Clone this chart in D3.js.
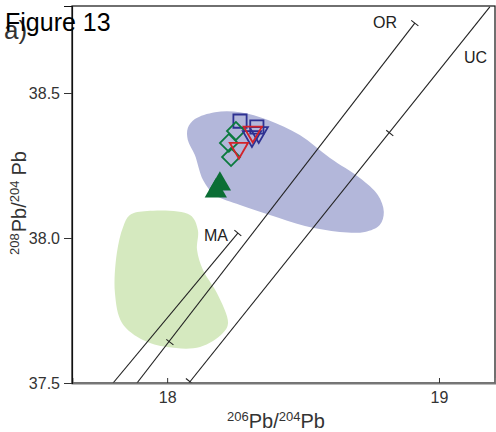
<!DOCTYPE html>
<html>
<head>
<meta charset="utf-8">
<script src="https://cdn.jsdelivr.net/npm/d3@7"></script>
<style>
  body { margin: 0; background: #fff; }
  svg { display: block; font-family: "Liberation Sans", Arial, sans-serif; }
</style>
</head>
<body>
<div id="chart"></div>
<script>
// Axis ticks
const xTicks = [18, 19];
const yTicks = [37.5, 38.0, 38.5];

// Field outlines (206Pb/204Pb, 208Pb/204Pb)
const blueField = [
  [18.076, 38.379], [18.102, 38.410], [18.176, 38.434], [18.268, 38.434],
  [18.371, 38.407], [18.488, 38.355], [18.599, 38.276], [18.709, 38.207],
  [18.775, 38.148], [18.797, 38.090], [18.782, 38.045], [18.727, 38.021],
  [18.635, 38.021], [18.507, 38.041], [18.378, 38.079], [18.268, 38.114],
  [18.176, 38.148], [18.132, 38.200], [18.102, 38.286], [18.076, 38.338]
];
const greenField = [
  [17.863, 38.079], [17.926, 38.093], [18.084, 38.079], [18.113, 38.028],
  [18.110, 37.959], [18.132, 37.890], [18.183, 37.810], [18.224, 37.707],
  [18.205, 37.672], [18.121, 37.624], [17.999, 37.624], [17.911, 37.648],
  [17.834, 37.707], [17.808, 37.810], [17.815, 37.948], [17.838, 38.038]
];

// Growth curves: start, end, tick marks
const curveNames = ["OR", "UC", "MA"];
const curveStart = [[17.889, 37.5], [18.080, 37.5], [17.801, 37.5]];
const curveEnd = [[18.911, 38.741], [19.187, 38.797], [18.260, 38.017]];
const curveTicks = [[[18.010, 37.641]], [[18.082, 37.506], [18.819, 38.362]], []];
const curveEndCap = [true, false, true];

// Samples
const blueSquares = [[18.268, 38.403], [18.330, 38.383]];
const greenDiamonds = [[18.253, 38.369], [18.227, 38.328], [18.235, 38.279]];
const redTriangles = [[18.315, 38.366], [18.264, 38.310]];
const blueTriangles = [[18.312, 38.350], [18.337, 38.364]];
const greenFilled = [[18.194, 38.186], [18.179, 38.162]];

const W = 496, H = 432;
const x = d3.scaleLinear().domain([17.65, 19.206]).range([72, 495]);
const y = d3.scaleLinear().domain([37.5, 38.8]).range([383, 6]);

const svg = d3.select("#chart").append("svg")
  .attr("width", W).attr("height", H);

svg.append("clipPath").attr("id", "clip")
  .append("rect")
  .attr("x", 72).attr("y", 6).attr("width", 423).attr("height", 377);

const plot = svg.append("g").attr("clip-path", "url(#clip)");

const area = d3.line().x(d => x(d[0])).y(d => y(d[1])).curve(d3.curveCatmullRomClosed.alpha(0.5));

plot.append("path").datum(blueField).attr("d", area).attr("fill", "#b3b7da");
plot.append("path").datum(greenField).attr("d", area).attr("fill", "#d5e9bf");

// growth curves
curveNames.forEach((name, i) => {
  const p0 = [x(curveStart[i][0]), y(curveStart[i][1])];
  const p1 = [x(curveEnd[i][0]), y(curveEnd[i][1])];
  const dx = p1[0] - p0[0], dy = p1[1] - p0[1];
  const len = Math.hypot(dx, dy);
  const nx = -dy / len * 4.5, ny = dx / len * 4.5;
  plot.append("line")
    .attr("x1", p0[0]).attr("y1", p0[1]).attr("x2", p1[0]).attr("y2", p1[1])
    .attr("stroke", "#222").attr("stroke-width", 1.1);
  const marks = curveTicks[i].map(t => [x(t[0]), y(t[1])]);
  if (curveEndCap[i]) marks.push(p1);
  marks.forEach(m => {
    plot.append("line")
      .attr("x1", m[0] - nx).attr("y1", m[1] - ny)
      .attr("x2", m[0] + nx).attr("y2", m[1] + ny)
      .attr("stroke", "#222").attr("stroke-width", 1.1);
  });
});

// curve labels
svg.append("text").attr("x", 397).attr("y", 28).attr("text-anchor", "end")
  .attr("font-size", 16).attr("fill", "#222").text(curveNames[0]);
svg.append("text").attr("x", 464).attr("y", 63)
  .attr("font-size", 16).attr("fill", "#222").text(curveNames[1]);
svg.append("text").attr("x", 228).attr("y", 241).attr("text-anchor", "end")
  .attr("font-size", 16).attr("fill", "#222").text(curveNames[2]);

// markers
function drawMarkers(data, type, size, rotate, color, filled) {
  plot.append("g").selectAll("path")
    .data(data)
    .join("path")
    .attr("d", d3.symbol().type(type).size(size))
    .attr("transform", d => `translate(${x(d[0])},${y(d[1])}) rotate(${rotate})`)
    .attr("fill", filled ? color : "none")
    .attr("stroke", color)
    .attr("stroke-width", filled ? 0 : 1.8);
}
drawMarkers(blueSquares, d3.symbolSquare, 175, 0, "#2e3192", false);
drawMarkers(greenDiamonds, d3.symbolSquare, 160, 45, "#0b7a3e", false);
drawMarkers(blueTriangles, d3.symbolTriangle, 145, 180, "#2e3192", false);
drawMarkers(redTriangles, d3.symbolTriangle, 145, 180, "#d2232a", false);
drawMarkers(greenFilled, d3.symbolTriangle, 215, 0, "#0b6e35", true);

// frame
svg.append("rect").attr("x", 72).attr("y", 6).attr("width", 423).attr("height", 377)
  .attr("fill", "none").attr("stroke", "#111").attr("stroke-width", 1.2);

// axes
const xAxis = svg.append("g").attr("transform", "translate(0,383)")
  .call(d3.axisBottom(x).tickValues(xTicks).tickSize(-5).tickPadding(9).tickFormat(d3.format("d")));
xAxis.select(".domain").attr("stroke", "#777").attr("stroke-width", 2);
xAxis.selectAll("text").attr("font-size", 16).attr("fill", "#333").attr("font-family", null);
xAxis.selectAll("line").attr("stroke", "#333");

const yAxis = svg.append("g").attr("transform", "translate(72,0)")
  .call(d3.axisLeft(y).tickValues(yTicks).tickSize(8).tickPadding(4).tickFormat(d3.format(".1f")));
yAxis.select(".domain").attr("stroke", "#111").attr("stroke-width", 1.2);
yAxis.selectAll("text").attr("font-size", 16).attr("fill", "#333").attr("font-family", null);
yAxis.selectAll("line").attr("stroke", "#333");

// axis titles
const xt = svg.append("text").attr("x", 276).attr("y", 428).attr("text-anchor", "middle")
  .attr("font-size", 20).attr("fill", "#333");
xt.append("tspan").attr("font-size", 13).attr("dy", -7).text("206");
xt.append("tspan").attr("dy", 7).text("Pb/");
xt.append("tspan").attr("font-size", 13).attr("dy", -7).text("204");
xt.append("tspan").attr("dy", 7).text("Pb");

const yt = svg.append("text").attr("transform", "translate(26,203) rotate(-90)")
  .attr("text-anchor", "middle").attr("font-size", 20).attr("fill", "#333");
yt.append("tspan").attr("font-size", 13).attr("dy", -7).text("208");
yt.append("tspan").attr("dy", 7).attr("dx", 1).text("Pb/");
yt.append("tspan").attr("font-size", 13).attr("dy", -7).text("204");
yt.append("tspan").attr("dy", 7).attr("dx", 5).text("Pb");

// panel label and figure caption
svg.append("text").attr("x", 4).attr("y", 39).attr("font-size", 26).attr("fill", "#333").text("a)");
svg.append("text").attr("x", 5).attr("y", 31).attr("font-size", 25).attr("fill", "#000").text("Figure 13");
</script>
</body>
</html>
